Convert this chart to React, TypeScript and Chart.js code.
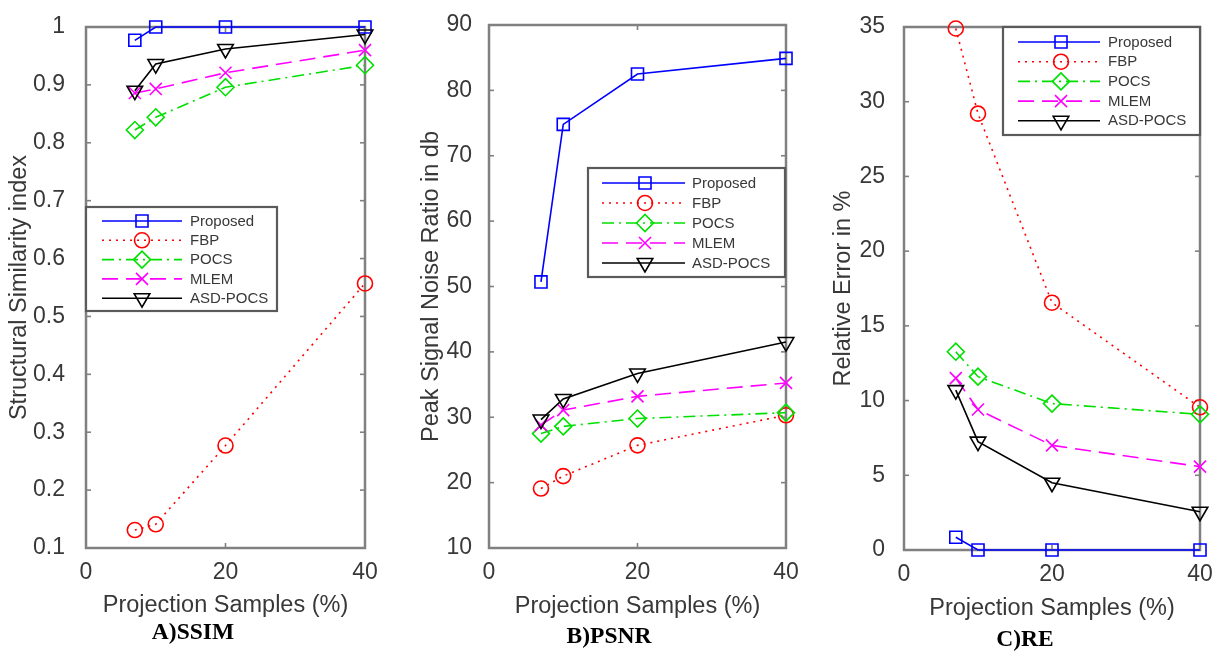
import React, { useEffect, useRef } from 'react';
import { Chart, registerables } from 'chart.js';
import { drawPoint } from 'chart.js/helpers';

Chart.register(...registerables);

// ---------- data ----------
const projectionSamples = [7, 10, 20, 40];
const methodNames = ['Proposed', 'FBP', 'POCS', 'MLEM', 'ASD-POCS'];

const ssimProposed = [0.977, 1.0, 1.0, 1.0];
const ssimFBP = [0.131, 0.141, 0.277, 0.557];
const ssimPOCS = [0.822, 0.844, 0.896, 0.934];
const ssimMLEM = [0.886, 0.893, 0.921, 0.96];
const ssimASD = [0.89, 0.936, 0.962, 0.987];

const psnrProposed = [50.7, 74.8, 82.5, 84.9];
const psnrFBP = [19.1, 21.0, 25.7, 30.3];
const psnrPOCS = [27.5, 28.6, 29.8, 30.7];
const psnrMLEM = [28.8, 31.1, 33.2, 35.25];
const psnrASD = [29.65, 32.8, 36.7, 41.5];

const reProposed = [0.85, 0.0, 0.0, 0.0];
const reFBP = [34.9, 29.2, 16.55, 9.55];
const rePOCS = [13.27, 11.6, 9.8, 9.08];
const reMLEM = [11.5, 9.4, 7.0, 5.58];
const reASD = [10.7, 7.25, 4.5, 2.56];

const xTicksMin = 0;
const xTicksMax = 40;
const xTickStep = 20;

// ---------- styles ----------
const methodColors = ['#0000ff', '#ff0000', '#00e000', '#ff00ff', '#000000'];
const methodDashes = [[], [2, 5], [12, 5, 2, 5], [16, 8], []];
const methodPointStyles = ['rect', 'circle', 'rectRot', 'crossRot', 'triangle'];
const methodPointRadius = [8.5, 7.5, 8.5, 8.5, 9];
const methodPointRotation = [0, 0, 0, 0, 180];

const FRAME_COLOR = '#808080';
const TEXT_COLOR = '#383838';
const FONT = "'Liberation Sans', Arial, Helvetica, sans-serif";
const TICK_SIZE = 23;
const TITLE_SIZE = 23.5;

const frameAndTicks = {
  id: 'frameAndTicks',
  beforeDatasetsDraw(chart: any) {
    const { ctx, chartArea: a, scales } = chart;
    ctx.save();
    ctx.strokeStyle = FRAME_COLOR;
    ctx.lineWidth = 2.5;
    ctx.strokeRect(a.left, a.top, a.right - a.left, a.bottom - a.top);
    ctx.lineWidth = 1.6;
    const tl = 5;
    const seg = (x1: number, y1: number, x2: number, y2: number) => {
      ctx.beginPath();
      ctx.moveTo(x1, y1);
      ctx.lineTo(x2, y2);
      ctx.stroke();
    };
    scales.y.ticks.forEach((t: any) => {
      const y = scales.y.getPixelForValue(t.value);
      seg(a.left, y, a.left + tl, y);
      seg(a.right, y, a.right - tl, y);
    });
    scales.x.ticks.forEach((t: any) => {
      const x = scales.x.getPixelForValue(t.value);
      seg(x, a.top, x, a.top + tl);
      seg(x, a.bottom, x, a.bottom - tl);
    });
    ctx.restore();
  },
};

const matlabLegend = {
  id: 'matlabLegend',
  afterDraw(chart: any, _args: any, opts: any) {
    const { ctx } = chart;
    ctx.save();
    ctx.fillStyle = '#ffffff';
    ctx.fillRect(opts.x, opts.y, opts.w, opts.h);
    ctx.strokeStyle = '#5a5a5a';
    ctx.lineWidth = 2.2;
    ctx.strokeRect(opts.x, opts.y, opts.w, opts.h);
    chart.data.datasets.forEach((ds: any, i: number) => {
      const y = opts.row0 + i * opts.rowGap;
      ctx.save();
      ctx.strokeStyle = ds.borderColor;
      ctx.lineWidth = ds.borderWidth;
      ctx.setLineDash(ds.borderDash || []);
      ctx.beginPath();
      ctx.moveTo(opts.lineX0, y);
      ctx.lineTo(opts.lineX1, y);
      ctx.stroke();
      ctx.setLineDash([]);
      ctx.strokeStyle = ds.pointBorderColor;
      ctx.fillStyle = 'rgba(0,0,0,0)';
      ctx.lineWidth = ds.pointBorderWidth;
      drawPoint(
        ctx,
        {
          pointStyle: ds.pointStyle,
          rotation: ds.pointRotation,
          radius: ds.pointRadius,
          borderWidth: ds.pointBorderWidth,
        } as any,
        opts.markerX,
        y
      );
      ctx.restore();
      ctx.fillStyle = TEXT_COLOR;
      ctx.font = `15px ${FONT}`;
      ctx.textBaseline = 'middle';
      ctx.textAlign = 'left';
      ctx.fillText(ds.label, opts.textX, y + 0.5);
    });
    ctx.restore();
  },
};

const captionPlugin = {
  id: 'caption',
  afterDraw(chart: any, _args: any, opts: any) {
    const { ctx } = chart;
    ctx.save();
    ctx.fillStyle = '#000000';
    ctx.font = `bold 23.5px 'Liberation Serif', 'Times New Roman', serif`;
    ctx.textAlign = 'center';
    ctx.textBaseline = 'middle';
    ctx.fillText(opts.text, opts.x, opts.y);
    ctx.restore();
  },
};

type Panel = {
  left: number;
  width: number;
  series: number[][];
  yMin: number;
  yMax: number;
  yStep: number;
  yTitle: string;
  caption: string;
  captionX: number;
  captionY: number;
  areaLeft: number;
  areaRight: number;
  areaTop: number;
  areaBottom: number;
  padBottom: number;
  yTickPad: number;
  yTitleCenter: number;
  xTitleCenter: number;
  legend: any;
  decimals: number;
};

const panels: Panel[] = [
  {
    left: 0,
    width: 400,
    series: [ssimProposed, ssimFBP, ssimPOCS, ssimMLEM, ssimASD],
    yMin: 0.1,
    yMax: 1,
    yStep: 0.1,
    yTitle: 'Structural Similarity index',
    caption: 'A)SSIM',
    captionX: 193,
    captionY: 633,
    areaLeft: 86,
    areaRight: 365,
    areaTop: 27,
    areaBottom: 548,
    padBottom: 30,
    yTickPad: 13,
    yTitleCenter: 20,
    xTitleCenter: 606,
    legend: { x: 86, y: 207, w: 191, h: 104, row0: 221, rowGap: 19.3, lineX0: 102, lineX1: 182, markerX: 142, textX: 190 },
    decimals: 1,
  },
  {
    left: 400,
    width: 410,
    series: [psnrProposed, psnrFBP, psnrPOCS, psnrMLEM, psnrASD],
    yMin: 10,
    yMax: 90,
    yStep: 10,
    yTitle: 'Peak Signal Noise Ratio in db',
    caption: 'B)PSNR',
    captionX: 209,
    captionY: 637,
    areaLeft: 89,
    areaRight: 386,
    areaTop: 25,
    areaBottom: 548,
    padBottom: 29,
    yTickPad: 9,
    yTitleCenter: 32,
    xTitleCenter: 607,
    legend: { x: 188, y: 168, w: 197, h: 109, row0: 183, rowGap: 20, lineX0: 202, lineX1: 285, markerX: 245, textX: 292 },
    decimals: 0,
  },
  {
    left: 810,
    width: 412,
    series: [reProposed, reFBP, rePOCS, reMLEM, reASD],
    yMin: 0,
    yMax: 35,
    yStep: 5,
    yTitle: 'Relative Error in %',
    caption: 'C)RE',
    captionX: 215,
    captionY: 640,
    areaLeft: 94,
    areaRight: 390,
    areaTop: 27,
    areaBottom: 550,
    padBottom: 27,
    yTickPad: 11,
    yTitleCenter: 34,
    xTitleCenter: 609,
    legend: { x: 193, y: 27, w: 197, h: 108, row0: 42, rowGap: 19.7, lineX0: 208, lineX1: 290, markerX: 251, textX: 298 },
    decimals: 0,
  },
];

const HEIGHT = 652;

function PanelChart({ p }: { p: Panel }) {
  const ref = useRef<HTMLCanvasElement>(null);
  useEffect(() => {
    if (!ref.current) return;
    const titleLH = TITLE_SIZE * 1.2;
    const xScaleHeight = HEIGHT - p.padBottom - p.areaBottom;
    const xTitlePad = Math.max(0, HEIGHT - p.padBottom - p.xTitleCenter - titleLH / 2);
    const chart = new Chart(ref.current, {
      type: 'line',
      data: {
        datasets: p.series.map((vals, i) => ({
          label: methodNames[i],
          data: projectionSamples.map((x, j) => ({ x, y: vals[j] })),
          borderColor: methodColors[i],
          borderWidth: 1.6,
          borderDash: methodDashes[i],
          pointStyle: methodPointStyles[i] as any,
          pointRadius: methodPointRadius[i],
          pointRotation: methodPointRotation[i],
          pointBorderColor: methodColors[i],
          pointBackgroundColor: 'rgba(0,0,0,0)',
          pointBorderWidth: 1.6,
          fill: false,
          tension: 0,
          clip: false as any,
          order: methodNames.length - i,
        })),
      },
      options: {
        animation: false,
        responsive: false,
        devicePixelRatio: 1,
        events: [],
        layout: {
          padding: {
            left: 0,
            top: p.areaTop,
            right: p.width - p.areaRight,
            bottom: p.padBottom,
          },
        },
        scales: {
          x: {
            type: 'linear',
            min: xTicksMin,
            max: xTicksMax,
            ticks: {
              stepSize: xTickStep,
              color: TEXT_COLOR,
              font: { family: FONT, size: TICK_SIZE },
              padding: 3,
              maxRotation: 0,
            },
            grid: { display: false },
            border: { display: false },
            title: {
              display: true,
              text: 'Projection Samples (%)',
              color: TEXT_COLOR,
              font: { family: FONT, size: TITLE_SIZE },
              padding: { top: 0, bottom: xTitlePad },
            },
            afterFit: (s: any) => {
              s.height = xScaleHeight;
            },
          },
          y: {
            type: 'linear',
            min: p.yMin,
            max: p.yMax,
            ticks: {
              stepSize: p.yStep,
              color: TEXT_COLOR,
              font: { family: FONT, size: TICK_SIZE },
              padding: p.yTickPad,
              callback: (v: any) => Number(Number(v).toFixed(p.decimals)).toString(),
            },
            grid: { display: false },
            border: { display: false },
            title: {
              display: true,
              text: p.yTitle,
              color: TEXT_COLOR,
              font: { family: FONT, size: TITLE_SIZE },
              padding: { top: p.yTitleCenter - titleLH / 2, bottom: 0 },
            },
            afterFit: (s: any) => {
              s.width = p.areaLeft;
            },
          },
        },
        plugins: {
          legend: { display: false },
          tooltip: { enabled: false },
          matlabLegend: p.legend,
          caption: { text: p.caption, x: p.captionX, y: p.captionY },
        } as any,
      },
      plugins: [frameAndTicks, matlabLegend, captionPlugin],
    });
    return () => chart.destroy();
  }, [p]);
  return (
    <canvas
      ref={ref}
      width={p.width}
      height={HEIGHT}
      style={{ position: 'absolute', left: p.left, top: 0, width: p.width, height: HEIGHT }}
    />
  );
}

export default function App() {
  return (
    <div
      style={{
        position: 'fixed',
        left: 0,
        top: 0,
        width: 1222,
        height: HEIGHT,
        background: '#ffffff',
        overflow: 'hidden',
      }}
    >
      {panels.map((p, i) => (
        <PanelChart key={i} p={p} />
      ))}
    </div>
  );
}
